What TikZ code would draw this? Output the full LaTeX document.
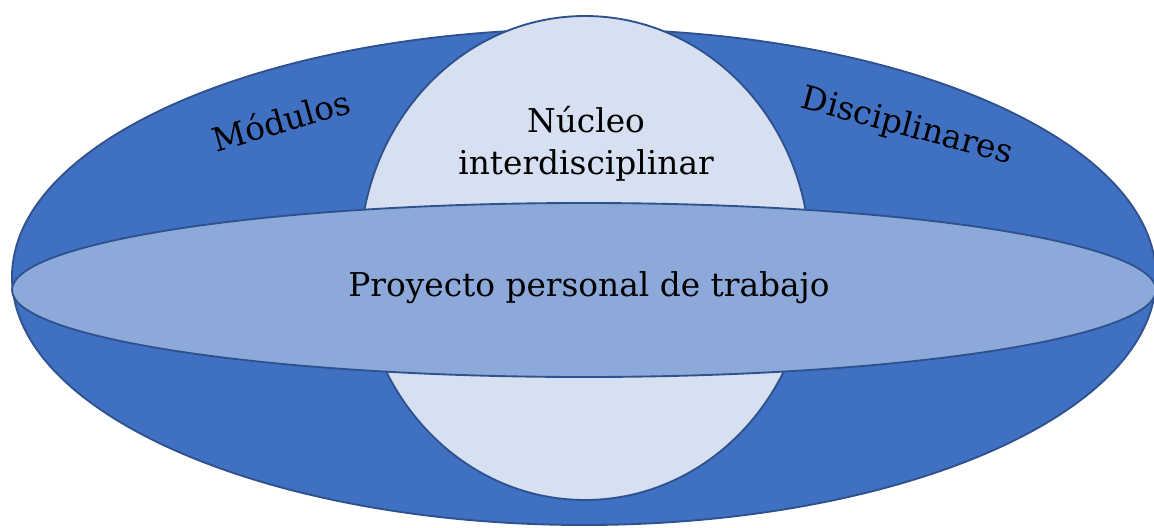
\documentclass[tikz,border=0pt]{standalone}
\usepackage{fontspec}
\setmainfont{DejaVu Serif}
\usetikzlibrary{positioning}

\definecolor{modblue}{HTML}{4070C2}
\definecolor{projblue}{HTML}{8CA9DA}
\definecolor{coreblue}{HTML}{D6E0F1}
\definecolor{edgeblue}{HTML}{2F528F}

\tikzset{
  area/.style={draw=edgeblue, line width=1.6pt},
  label/.style={font=\fontsize{28}{36}\selectfont, text=black, align=center}
}

\begin{document}
\begin{tikzpicture}[x=0.03cm, y=-0.03cm]
\useasboundingbox (0,0) rectangle (1154,527);
% outer ring of modules
\filldraw[area, fill=modblue] (584,277) ellipse (572 and 248);
% core
\filldraw[area, fill=coreblue] (585,258) ellipse (225 and 242);
% project band
\filldraw[area, fill=projblue] (584,290) ellipse (572 and 87);

\node[label, rotate=16] (modulos) at (281,120) {Módulos};
\node[label, rotate=-15] (disciplinares) at (907,127) {Disciplinares};
\node[label] (nucleo) at (586,144) {Núcleo\\interdisciplinar};
\node[label] (proyecto) at (589,288) {Proyecto personal de trabajo};
\end{tikzpicture}
\end{document}
